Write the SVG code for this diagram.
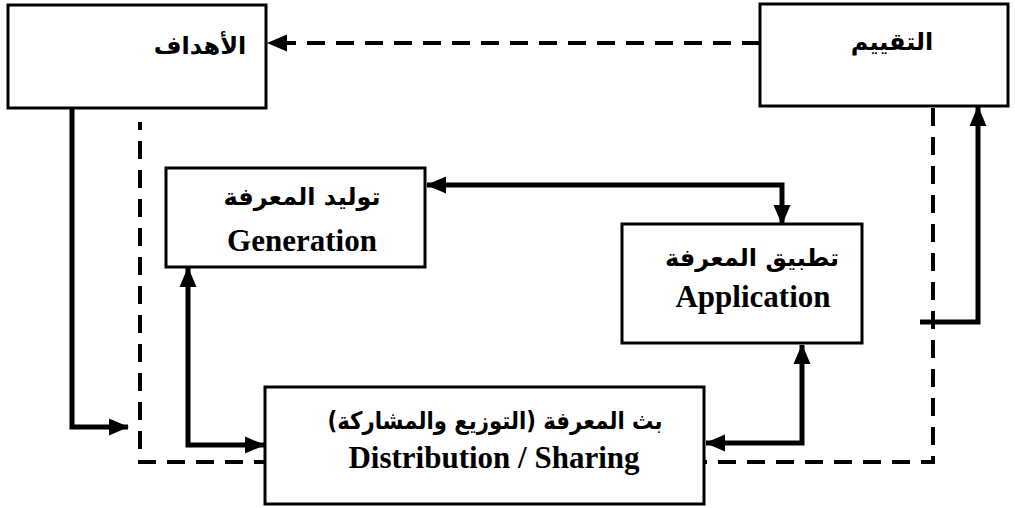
<svg xmlns="http://www.w3.org/2000/svg" width="1015" height="508" viewBox="0 0 1015 508">
<defs>
<marker id="ah" markerUnits="userSpaceOnUse" markerWidth="20" markerHeight="20" viewBox="0 0 20 20" refX="19" refY="10" orient="auto-start-reverse">
<path d="M0,1.5 L20,10 L0,18.5 Z" fill="#000"/>
</marker>
<style>
.box{fill:#fff;stroke:#000;stroke-width:3}
.ar{font-family:"DejaVu Sans","Noto Sans",sans-serif;font-weight:bold;font-size:24px;fill:#000}
.en{font-family:"Liberation Serif",serif;font-weight:bold;font-size:31px;fill:#000}
.sol{fill:none;stroke:#000;stroke-width:5}
.dash{fill:none;stroke:#000;stroke-width:4;stroke-dasharray:18 11}
</style>
</defs>
<g id="connectors">
<path class="dash" d="M933,108 L933,462 L140,462 L140,122"/>
<path class="dash" d="M760,43 L268,43" marker-end="url(#ah)"/>
<path class="sol" d="M72,108 L72,427 L128,427" marker-end="url(#ah)"/>
<path class="sol" d="M427,185 L782,185 L782,224" marker-start="url(#ah)" marker-end="url(#ah)"/>
<path class="sol" d="M188,268 L188,445 L264,445" marker-start="url(#ah)" marker-end="url(#ah)"/>
<path class="sol" d="M706,443 L802,443 L802,345" marker-start="url(#ah)" marker-end="url(#ah)"/>
<path class="sol" d="M920,322 L978,322 L978,107" marker-end="url(#ah)"/>
</g>
<g id="goals">
<rect class="box" x="8" y="5" width="258" height="103"/>
<text class="ar" x="200" y="54" text-anchor="middle" direction="rtl">الأهداف</text>
</g>
<g id="evaluation">
<rect class="box" x="760" y="4" width="248" height="102"/>
<text class="ar" x="892" y="50" text-anchor="middle" direction="rtl">التقييم</text>
</g>
<g id="generation">
<rect class="box" x="166" y="168" width="259" height="99"/>
<text class="ar" x="302" y="205" text-anchor="middle" direction="rtl">توليد المعرفة</text>
<text class="en" x="302" y="251" text-anchor="middle">Generation</text>
</g>
<g id="application">
<rect class="box" x="622" y="224" width="240" height="119"/>
<text class="ar" x="752" y="266" text-anchor="middle" direction="rtl">تطبيق المعرفة</text>
<text class="en" x="753" y="307" text-anchor="middle">Application</text>
</g>
<g id="distribution">
<rect class="box" x="265" y="387" width="439" height="117"/>
<text class="ar" x="495" y="429" text-anchor="middle" direction="rtl" textLength="335" lengthAdjust="spacingAndGlyphs">بث المعرفة (التوزيع والمشاركة)</text>
<text class="en" x="494" y="468" text-anchor="middle">Distribution / Sharing</text>
</g>
</svg>
